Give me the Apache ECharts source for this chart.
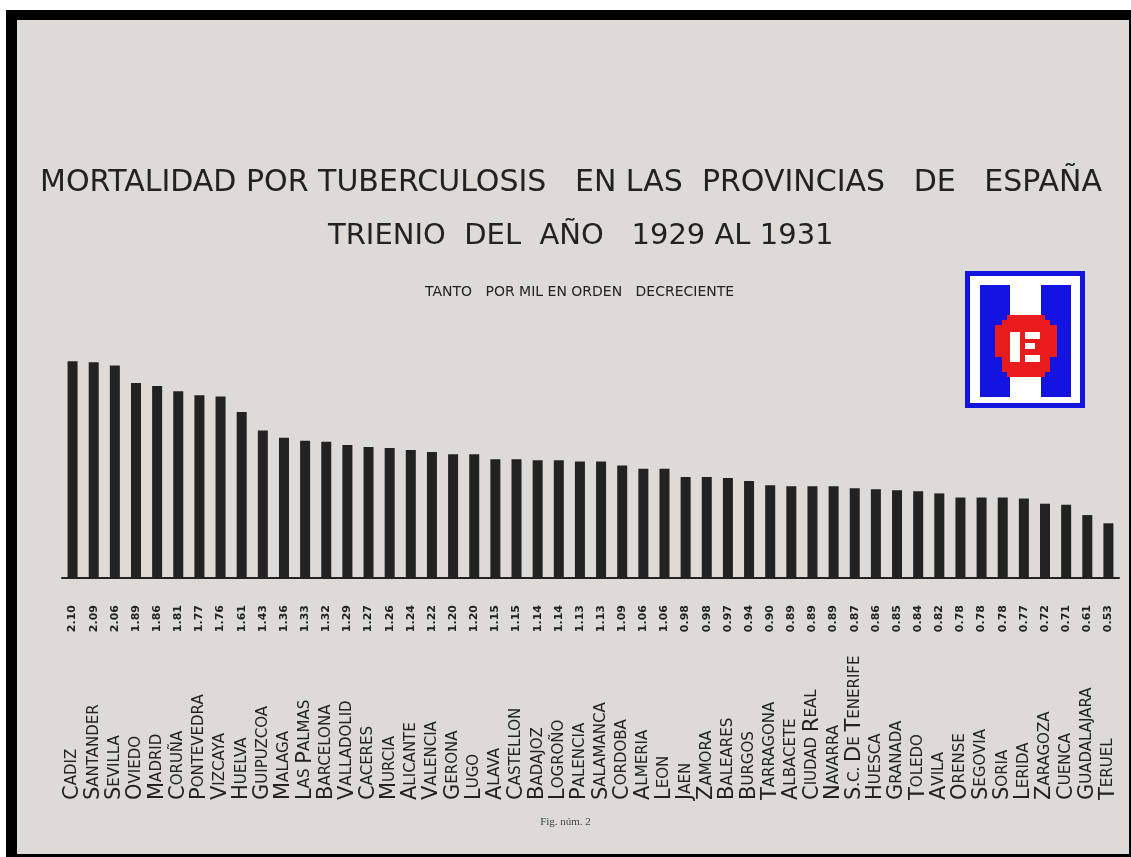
<!DOCTYPE html>
<html>
<head>
<meta charset="utf-8">
<script src="https://cdn.jsdelivr.net/npm/echarts@6/dist/echarts.min.js"></script>
<style>
  html, body { margin: 0; padding: 0; background: #ffffff; }
  #chart { width: 1131px; height: 857px; }
</style>
</head>
<body>
<div id="chart"></div>
<script>
// provincias, en orden decreciente
const provincias = [
  "Cadiz", "Santander", "Sevilla", "Oviedo", "Madrid", "Coruña", "Pontevedra", "Vizcaya",
  "Huelva", "Guipuzcoa", "Malaga", "Las Palmas", "Barcelona", "Valladolid", "Caceres",
  "Murcia", "Alicante", "Valencia", "Gerona", "Lugo", "Alava", "Castellon", "Badajoz",
  "Logroño", "Palencia", "Salamanca", "Cordoba", "Almeria", "Leon", "Jaen", "Zamora",
  "Baleares", "Burgos", "Tarragona", "Albacete", "Ciudad Real", "Navarra",
  "S.C. de Tenerife", "Huesca", "Granada", "Toledo", "Avila", "Orense", "Segovia",
  "Soria", "Lerida", "Zaragoza", "Cuenca", "Guadalajara", "Teruel"
];
// tanto por mil
const tasas = [
  2.10, 2.09, 2.06, 1.89, 1.86, 1.81, 1.77, 1.76, 1.61, 1.43, 1.36, 1.33, 1.32, 1.29,
  1.27, 1.26, 1.24, 1.22, 1.20, 1.20, 1.15, 1.15, 1.14, 1.14, 1.13, 1.13, 1.09, 1.06,
  1.06, 0.98, 0.98, 0.97, 0.94, 0.90, 0.89, 0.89, 0.89, 0.87, 0.86, 0.85, 0.84, 0.82,
  0.78, 0.78, 0.78, 0.77, 0.72, 0.71, 0.61, 0.53
];
const titulo1 = "MORTALIDAD POR TUBERCULOSIS   EN LAS  PROVINCIAS   DE   ESPAÑA";
const titulo2 = "TRIENIO  DEL  AÑO   1929 AL 1931";
const subtitulo = "TANTO   POR MIL EN ORDEN   DECRECIENTE";
const pie = "Fig. núm. 2";

const ink = "#222222";
const paper = "#dddad7";
const letra = "DejaVu Sans";

// capital grande + resto en versalitas
function versalitas(nombre) {
  return nombre.split(" ").map(function (w) {
    return "{g|" + w.charAt(0).toUpperCase() + "}{p|" + w.slice(1).toUpperCase() + "}";
  }).join("{p| }");
}

const chart = echarts.init(document.getElementById("chart"));
chart.setOption({
  backgroundColor: "#ffffff",
  animation: false,
  graphic: [
    { type: "rect", z: -10, shape: { x: 6, y: 10, width: 1125, height: 847 }, style: { fill: "#000" } },
    { type: "rect", z: -9, shape: { x: 17, y: 20, width: 1112, height: 834 }, style: { fill: paper } },
    {
      type: "text", left: 40, top: 168,
      style: { text: titulo1, font: "normal 30px " + letra, fill: ink }
    },
    {
      type: "text", left: 328, top: 222,
      style: { text: titulo2, font: "normal 29px " + letra, fill: ink }
    },
    {
      type: "text", left: 425, top: 285,
      style: { text: subtitulo, font: "normal 14px " + letra, fill: ink }
    },
    {
      type: "text", left: "center", top: 817,
      style: { text: pie, font: "normal 11px 'Liberation Serif'", fill: "#444" }
    },
    // logotipo
    {
      type: "group", left: 965, top: 271,
      children: [
        { type: "rect", shape: { x: 0, y: 0, width: 120, height: 137 }, style: { fill: "#1414e0" } },
        { type: "rect", shape: { x: 5, y: 5, width: 110, height: 127 }, style: { fill: "#ffffff" } },
        { type: "rect", shape: { x: 15, y: 14, width: 30, height: 112 }, style: { fill: "#1414e0" } },
        { type: "rect", shape: { x: 76, y: 14, width: 30, height: 112 }, style: { fill: "#1414e0" } },
        { type: "rect", shape: { x: 30, y: 54, width: 62, height: 32 }, style: { fill: "#e81c1c" } },
        { type: "rect", shape: { x: 37, y: 49, width: 48, height: 52 }, style: { fill: "#e81c1c" } },
        { type: "rect", shape: { x: 42, y: 44, width: 38, height: 62 }, style: { fill: "#e81c1c" } },
        { type: "rect", shape: { x: 45, y: 61, width: 10, height: 30 }, style: { fill: "#ffffff" } },
        { type: "rect", shape: { x: 60, y: 61, width: 15, height: 7 }, style: { fill: "#ffffff" } },
        { type: "rect", shape: { x: 60, y: 72, width: 10, height: 6 }, style: { fill: "#ffffff" } },
        { type: "rect", shape: { x: 60, y: 84, width: 15, height: 7 }, style: { fill: "#ffffff" } }
      ]
    }
  ],
  grid: { left: 62, right: 12, top: 351, bottom: 279 },
  xAxis: {
    type: "category",
    data: provincias,
    axisLine: { lineStyle: { color: ink, width: 2 } },
    axisTick: { show: false },
    axisLabel: {
      interval: 0,
      rotate: 90,
      align: "left",
      verticalAlign: "middle",
      margin: 222,
      color: ink,
      formatter: versalitas,
      rich: {
        g: { fontFamily: letra, fontSize: 21, color: ink },
        p: { fontFamily: letra, fontSize: 15, color: ink }
      }
    }
  },
  yAxis: {
    type: "value",
    min: 0,
    max: 2.2,
    show: false,
    splitLine: { show: false }
  },
  series: [
    {
      type: "bar",
      data: tasas,
      barWidth: 10,
      itemStyle: { color: ink },
      label: {
        show: true,
        position: "bottom",
        distance: 27,
        rotate: 90,
        align: "right",
        verticalAlign: "middle",
        fontFamily: letra,
        fontSize: 11,
        fontWeight: "bold",
        color: ink,
        formatter: function (p) { return p.value.toFixed(2); }
      }
    }
  ]
});
</script>
</body>
</html>
